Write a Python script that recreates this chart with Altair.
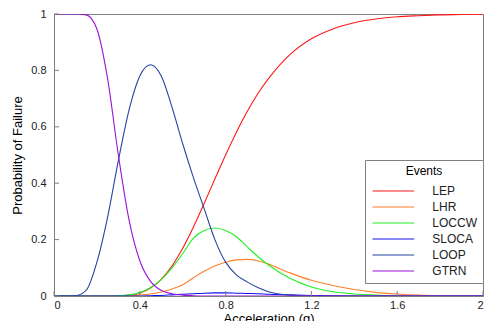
import altair as alt
import pandas as pd

accel = [0, 0.05, 0.1, 0.15, 0.2, 0.25, 0.3, 0.35, 0.4, 0.45, 0.5, 0.55, 0.6, 0.65, 0.7,
         0.75, 0.8, 0.85, 0.9, 0.95, 1.0, 1.1, 1.2, 1.3, 1.4, 1.5, 1.6, 1.7, 1.8, 1.9, 2.0]

lep = [0, 0, 0, 0, 0, 0.0001, 0.0005, 0.003, 0.010, 0.028, 0.059, 0.106, 0.169, 0.245, 0.328,
       0.415, 0.500, 0.580, 0.653, 0.717, 0.771, 0.856, 0.912, 0.947, 0.969, 0.982, 0.990,
       0.994, 0.997, 0.998, 0.999]
lhr = [0, 0, 0, 0, 0, 0, 0, 0.001, 0.003, 0.007, 0.014, 0.025, 0.040, 0.065, 0.088,
       0.106, 0.120, 0.128, 0.130, 0.125, 0.113, 0.082, 0.056, 0.037, 0.023, 0.013, 0.007,
       0.003, 0.001, 0, 0]
loccw = [0, 0, 0, 0, 0, 0, 0.001, 0.004, 0.012, 0.030, 0.058, 0.100, 0.150, 0.205, 0.232,
         0.241, 0.232, 0.210, 0.175, 0.140, 0.110, 0.063, 0.032, 0.015, 0.007, 0.003, 0.001,
         0, 0, 0, 0]
sloca = [0, 0, 0, 0, 0, 0, 0, 0, 0, 0.001, 0.002, 0.004, 0.006, 0.008, 0.010,
         0.011, 0.011, 0.010, 0.009, 0.008, 0.006, 0.004, 0.002, 0.001, 0, 0, 0,
         0, 0, 0, 0]
loop = [0, 0, 0.001, 0.02, 0.12, 0.28, 0.48, 0.66, 0.78, 0.82, 0.78, 0.67, 0.54, 0.42, 0.31,
        0.20, 0.12, 0.075, 0.05, 0.03, 0.015, 0.003, 0, 0, 0, 0, 0,
        0, 0, 0, 0]
gtrn = [1, 1, 1, 0.997, 0.947, 0.77, 0.50, 0.269, 0.125, 0.052, 0.020, 0.008, 0.003, 0.001, 0,
        0, 0, 0, 0, 0, 0, 0, 0, 0, 0, 0, 0,
        0, 0, 0, 0]

events = ["LEP", "LHR", "LOCCW", "SLOCA", "LOOP", "GTRN"]
colors = ["#FF1A1A", "#FF7F2A", "#22EE22", "#1010F0", "#2545A0", "#9A14D6"]
series = [lep, lhr, loccw, sloca, loop, gtrn]

xticks = [0, 0.4, 0.8, 1.2, 1.6, 2]
yticks = [0, 0.2, 0.4, 0.6, 0.8, 1]

rows = []
for name, vals in zip(events, series):
    for a, v in zip(accel, vals):
        rows.append({"accel": a, "prob": v, "event": name})
df = pd.DataFrame(rows)

FONT = "Liberation Sans"
GRAY = "#808080"
W, H = 429, 282

xscale = alt.Scale(domain=[0, 2], nice=False, zero=False)
yscale = alt.Scale(domain=[0, 1], nice=False)
xaxis = alt.Axis(values=xticks, format="~g", title="Acceleration (g)",
                 tickSize=0, labelPadding=3, titlePadding=2, grid=False)
yaxis = alt.Axis(values=yticks, format="~g", title="Probability of Failure",
                 tickSize=0, labelPadding=8, titlePadding=6, grid=False)

lines = alt.Chart(df).mark_line(strokeWidth=1.1, interpolate="monotone", clip=True).encode(
    x=alt.X("accel:Q", scale=xscale, axis=xaxis),
    y=alt.Y("prob:Q", scale=yscale, axis=yaxis),
    color=alt.Color("event:N", sort=events,
                    scale=alt.Scale(domain=events, range=colors),
                    legend=alt.Legend(title="Events", orient="none", legendX=311, legendY=146,
                                      symbolType="M-2.6,0H2.6", symbolSize=256,
                                      symbolStrokeWidth=1.2, symbolOffset=13.3,
                                      labelOffset=30, rowPadding=1,
                                      titleAnchor="middle", titlePadding=4, padding=6,
                                      strokeColor=GRAY, fillColor="white")),
)

xt = alt.Chart(pd.DataFrame({"accel": xticks})).mark_rule(color=GRAY, strokeWidth=1).encode(
    x=alt.X("accel:Q", scale=xscale, axis=xaxis),
    y=alt.value(H), y2=alt.value(H - 5))
yt = alt.Chart(pd.DataFrame({"prob": yticks})).mark_rule(color=GRAY, strokeWidth=1).encode(
    y=alt.Y("prob:Q", scale=yscale, axis=yaxis),
    x=alt.value(0), x2=alt.value(5))

chart = alt.layer(lines, xt, yt).properties(
    width=W, height=H,
    autosize=alt.AutoSizeParams(type="none"),
    padding={"left": 46, "top": 6, "right": 1, "bottom": 25},
).configure_view(stroke=GRAY, strokeWidth=1).configure_axis(
    domainColor=GRAY, labelFont=FONT, titleFont=FONT, labelFontSize=11, titleFontSize=13,
    labelColor="#222222", titleColor="#000000", titleFontWeight="normal",
).configure_legend(
    labelFont=FONT, titleFont=FONT, labelFontSize=12, titleFontSize=12,
    titleFontWeight="normal", labelColor="#222222", titleColor="#000000",
)

chart.save("out.html", embed_options={"renderer": "svg", "actions": False})
